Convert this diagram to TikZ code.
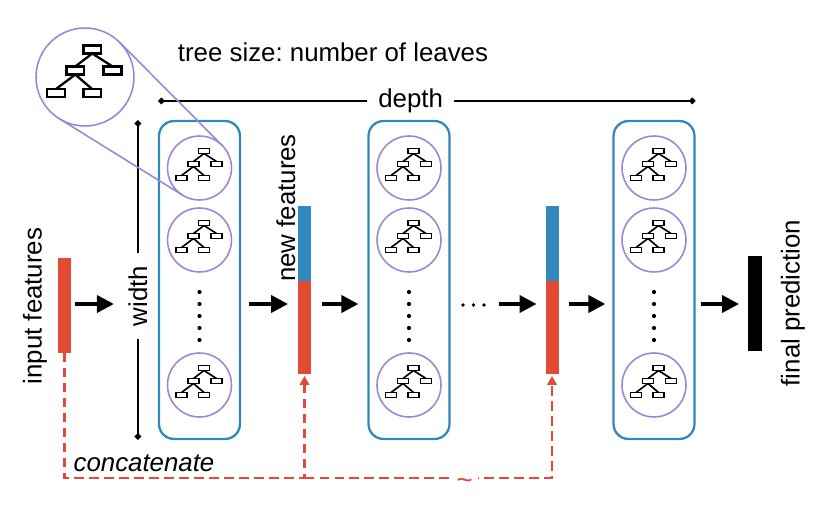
\documentclass[tikz,border=0pt]{standalone}
\usepackage{fontspec}
\setmainfont{Liberation Sans}
\usepackage{tikz}
\usetikzlibrary{arrows.meta}
\definecolor{layerblue}{RGB}{50,136,189}
\definecolor{featred}{RGB}{227,74,51}
\definecolor{treepurple}{RGB}{155,135,215}
\frenchspacing

\tikzset{
  treeline/.style={line width=0.95pt},
  pics/tree/.style={code={
    \draw[treeline] (4.5,-14.5) -- (-6,-6.5) (4.5,-14.5) -- (17,-6.5)
      (-6,-1.5) -- (-18,7.5) (-6,-1.5) -- (4.5,7.5);
    \foreach \tx/\ty in {4.5/-17, -6/-4, 17/-4, -18/10, 4.5/10}
      \draw[treeline, fill=white] (\tx-5.5,\ty-2.5) rectangle (\tx+5.5,\ty+2.5);
  }}
}

\begin{document}
\begin{tikzpicture}[x=0.02cm, y=-0.02cm, font=\fontsize{14.7}{17}\selectfont,
    bar/.style={rectangle, inner sep=0pt, outer sep=0pt, minimum width=0.26cm},
    layer/.style={draw=layerblue, line width=1.3pt, rounded corners=0.3cm, minimum width=1.62cm, minimum height=6.36cm, inner sep=0pt},
    leaf/.style={circle, draw=treepurple, line width=0.9pt, minimum size=1.28cm, inner sep=0pt, outer sep=0pt, fill=white},
    flow/.style={-{Triangle[length=0.34cm,width=0.34cm]}, line width=2.2pt},
    dim/.style={{Diamond[length=0.14cm,width=0.14cm]}-{Diamond[length=0.14cm,width=0.14cm]}, line width=0.9pt},
    concat/.style={featred, line width=1.4pt, dash pattern=on 0.19cm off 0.11cm, -{Triangle[length=0.18cm,width=0.19cm]}}]
    \useasboundingbox (0,0) rectangle (830,523);

    % Layers of trees
    \node[layer] (box1) at (199.5,280) {};
    \node[layer] (box2) at (409,280) {};
    \node[layer] (box3) at (654,280) {};
    \foreach \b/\bx in {1/199.5, 2/409, 3/654} {
        \foreach \r/\ry in {1/168, 2/240, 3/385} {
            \node[leaf] (t\b\r) at (\bx,\ry) {};
            \pic at (t\b\r) {tree};
        }
        \foreach \dy in {292,304,...,340}
            \fill (\bx,\dy) circle (0.042cm);
    }

    % Feature bars
    \node[bar, fill=featred, minimum height=1.9cm] (in) at (64.5,305.5) {};
    \node[bar, fill=layerblue, minimum height=1.5cm] (new1) at (304.5,243.5) {};
    \node[bar, fill=featred, minimum height=1.86cm] (old1) at (304.5,327.5) {};
    \node[bar, fill=layerblue, minimum height=1.5cm] (new2) at (552,243.5) {};
    \node[bar, fill=featred, minimum height=1.86cm] (old2) at (552,327.5) {};
    \node[bar, fill=black, minimum width=0.28cm, minimum height=1.9cm] (out) at (755,303.5) {};

    % Labels
    \node[rotate=90] (inlabel) at (35,306) {input features};
    \node[rotate=90] (newlabel) at (286,208) {new features};
    \node[rotate=90] (outlabel) at (793,303) {final prediction};
    \node (sizelabel) at (333,52) {tree size: number of leaves};
    \node[font=\fontsize{14.7}{17}\selectfont\itshape] (catlabel) at (144,463) {concatenate};

    % Forward arrows
    \coordinate (mid) at (0,304);
    \draw[flow, shorten <=0.08cm, shorten >=0.88cm] (in.east |- mid) -- (box1.west |- mid);
    \draw[flow, shorten <=0.16cm, shorten >=0.2cm] (box1.east |- mid) -- (old1.west |- mid);
    \draw[flow, shorten <=0.22cm, shorten >=0.18cm] (old1.east |- mid) -- (box2.west |- mid);
    \draw[flow, shorten <=0.96cm, shorten >=0.18cm] (box2.east |- mid) -- (old2.west |- mid);
    \draw[flow, shorten <=0.2cm, shorten >=0.14cm] (old2.east |- mid) -- (box3.west |- mid);
    \draw[flow, shorten <=0.1cm, shorten >=0.18cm] (box3.east |- mid) -- (out.west |- mid);
    \foreach \dx in {463,473.5,484}
        \fill (\dx,305) circle (0.038cm);

    % Depth and width
    \draw[dim] ([yshift=0.38cm]box1.north west) -- ([yshift=0.38cm]box3.north east)
        node[pos=0.47, fill=white, inner xsep=0.23cm] {depth};
    \draw[dim] ([xshift=-0.4cm]box1.north west) -- ([xshift=-0.4cm]box1.south west)
        node[pos=0.55, rotate=90, fill=white, inner xsep=0.25cm] {width};

    % Concatenation
    \coordinate (base) at (0,478);
    \draw[concat, shorten >=0.04cm] (in.south) -- (in.south |- base) -| (old1.south);
    \draw[concat, shorten >=0.04cm] (old1.south |- base) -| (old2.south);
    \node[fill=white, inner xsep=3pt, inner ysep=1pt, text=featred, font=\fontsize{16}{17}\selectfont] (skip) at (464.5,484) {\textasciitilde};

    % Zoomed tree
    \node[leaf, minimum size=1.96cm] (zoom) at (85,77) {};
    \pic[scale=1.62, treeline/.style={line width=1.3pt}] at (zoom) {tree};
    \draw[treepurple, line width=0.9pt] (zoom.45) -- (t11.45) (zoom.238) -- (t11.238);
\end{tikzpicture}
\end{document}
